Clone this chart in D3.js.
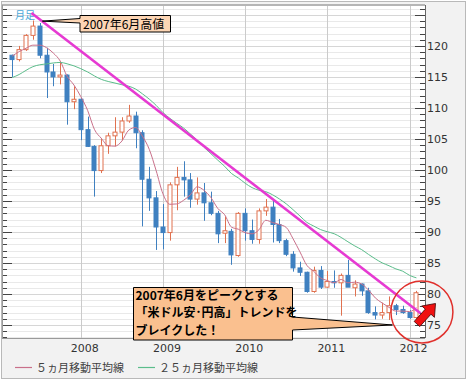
<!DOCTYPE html>
<html>
<head>
<meta charset="utf-8">
<script src="https://cdn.jsdelivr.net/npm/d3@7"></script>
<style>
    body { margin: 0; background: #fff; }
    svg { display: block; }
</style>
</head>
<body>
<div id="chart"></div>
<script>

// 月足 USD/JPY  2007-03 .. 2012-02
var months = ["2007-03","2007-04","2007-05","2007-06","2007-07","2007-08","2007-09","2007-10","2007-11","2007-12",
    "2008-01","2008-02","2008-03","2008-04","2008-05","2008-06","2008-07","2008-08","2008-09","2008-10","2008-11","2008-12",
    "2009-01","2009-02","2009-03","2009-04","2009-05","2009-06","2009-07","2009-08","2009-09","2009-10","2009-11","2009-12",
    "2010-01","2010-02","2010-03","2010-04","2010-05","2010-06","2010-07","2010-08","2010-09","2010-10","2010-11","2010-12",
    "2011-01","2011-02","2011-03","2011-04","2011-05","2011-06","2011-07","2011-08","2011-09","2011-10","2011-11","2011-12",
    "2012-01","2012-02"];

var opens  = [118.5,117.8,119.4,121.7,123.2,118.5,115.8,115.0,115.3,111.0,
    111.4,106.5,103.8, 99.9,103.9,105.5,106.1,107.9,108.7,106.0, 98.5, 95.5,
     90.8, 89.9, 97.6, 98.8, 98.4, 95.3, 96.3, 94.7, 93.0, 89.8, 90.1, 86.2,
     93.0, 90.2, 88.8, 93.4, 94.0, 91.2, 88.6, 86.4, 84.2, 83.5, 80.4, 83.8,
     81.1, 82.0, 81.8, 83.0, 81.0, 81.6, 80.5, 77.0, 76.6, 77.0, 78.1, 77.5,
     77.0, 76.2];
var highs  = [118.6,120.0,121.9,124.1,123.7,119.7,117.1,117.4,115.4,113.5,
    111.6,108.6,104.0,105.1,106.0,108.5,108.5,110.5,109.4,106.4,100.5, 96.6,
     94.5, 98.0,100.5,101.4, 99.5, 98.8, 97.9, 96.5, 93.4, 92.5, 90.5, 93.2,
     93.8, 92.0, 93.8, 95.3, 95.2, 92.1, 88.9, 86.9, 85.2, 83.6, 84.4, 84.5,
     83.7, 83.8, 83.3, 85.5, 82.2, 81.7, 81.0, 78.0, 78.6, 79.6, 78.4, 78.1,
     77.4, 80.5];
var lows   = [115.0,117.5,119.2,121.0,118.0,111.6,113.5,113.8,107.3,109.8,
    104.8,103.7, 95.7, 99.5,102.6,103.8,104.8,107.6,103.5, 90.9, 93.4, 87.1,
     87.2, 88.6, 93.5, 95.7, 93.9, 94.4, 91.8, 92.7, 88.2, 88.2, 84.7, 86.0,
     88.6, 88.1, 88.1, 92.6, 88.3, 88.2, 86.1, 83.6, 82.9, 80.2, 80.2, 80.8,
     81.0, 81.0, 76.5, 81.2, 79.6, 79.7, 76.8, 75.9, 76.0, 75.8, 76.6, 76.8,
     76.0, 76.0];
var closes = [117.8,119.4,121.7,123.2,118.5,115.8,115.0,115.3,111.0,111.4,
    106.5,103.8, 99.9,103.9,105.5,106.1,107.9,108.7,106.0, 98.5, 95.5, 90.8,
     89.9, 97.6, 98.8, 98.4, 95.3, 96.3, 94.7, 93.0, 89.7, 90.2, 86.3, 93.0,
     90.2, 88.8, 93.4, 94.0, 91.2, 88.6, 86.4, 84.2, 83.5, 80.4, 83.8, 81.1,
     82.0, 81.8, 83.0, 81.1, 81.6, 80.5, 77.0, 76.6, 77.0, 78.1, 77.5, 77.0,
     76.2, 80.2];

// closes 2005-03 .. 2007-02 (warm-up for the moving averages)
var preCloses = [107.2,105.0,108.3,110.9,112.3,111.0,113.3,116.4,119.7,117.8,
    117.2,115.9,117.8,113.9,112.6,114.5,114.7,117.3,118.0,116.9,115.8,119.0,
    120.7,118.5];

var yearLabels = ["2008", "2009", "2010", "2011", "2012"];
var yTicks = [75, 80, 85, 90, 95, 100, 105, 110, 115, 120];
var legendNames = ["５ヵ月移動平均線", "２５ヵ月移動平均線"];
var maPeriods = [5, 25];

// trend line from the June 2007 top (month index, value)
var trendIdx = [2.8, 59.6];
var trendVal = [125.3, 76.9];

var width = 468, height = 385;

var svg = d3.select("#chart").append("svg")
    .attr("width", width)
    .attr("height", height)
    .style("font-family", "'DejaVu Sans', sans-serif");

var plot = {left: 2, right: 425, top: 5, bottom: 338};

var x = d3.scaleLinear().domain([-1.5, 60.25]).range([plot.left, plot.right]);
var y = d3.scaleLinear().domain([72.9, 126.6]).range([plot.bottom, plot.top]);

var data = months.map(function (m, i) {
    return {m: m, i: i, o: opens[i], h: highs[i], l: lows[i], c: closes[i]};
});

// panel + plot background
svg.append("rect").attr("x", 1.5).attr("y", 1.5).attr("width", 464).attr("height", 377)
    .attr("fill", "#f2f2f2").attr("stroke", "#b9b9b9");
svg.append("rect").attr("x", plot.left).attr("y", plot.top)
    .attr("width", plot.right - plot.left).attr("height", plot.bottom - plot.top)
    .attr("fill", "#fff");

// horizontal grid, every 1 yen
var gridVals = d3.range(73, 127);
svg.append("g").selectAll("line").data(gridVals).enter().append("line")
    .attr("x1", plot.left).attr("x2", plot.right)
    .attr("y1", function (d) { return Math.round(y(d)) + 0.5; })
    .attr("y2", function (d) { return Math.round(y(d)) + 0.5; })
    .attr("stroke", function (d) { return d % 5 === 0 ? "#d6d6d6" : "#e9e9e9"; });

// vertical grid at January
var janIdx = yearLabels.map(function (yr) { return months.indexOf(yr + "-01"); });
svg.append("g").selectAll("line").data(janIdx).enter().append("line")
    .attr("x1", function (d) { return Math.round(x(d)) + 0.5; })
    .attr("x2", function (d) { return Math.round(x(d)) + 0.5; })
    .attr("y1", plot.top).attr("y2", plot.bottom)
    .attr("stroke", "#cbcbcb");

// ticks on both sides
var tickG = svg.append("g");
gridVals.forEach(function (v) {
    var yy = Math.round(y(v)) + 0.5, len = v % 5 === 0 ? 10 : 5;
    tickG.append("line").attr("x1", plot.left).attr("x2", plot.left + len)
        .attr("y1", yy).attr("y2", yy).attr("stroke", "#444");
    tickG.append("line").attr("x1", plot.right - len).attr("x2", plot.right)
        .attr("y1", yy).attr("y2", yy).attr("stroke", "#444");
});

// frame lines
svg.append("line").attr("x1", plot.left).attr("x2", plot.right).attr("y1", plot.top).attr("y2", plot.top)
    .attr("stroke", "#b5b5b5").attr("stroke-width", 2);
svg.append("line").attr("x1", plot.left).attr("x2", plot.right).attr("y1", plot.bottom + 0.5).attr("y2", plot.bottom + 0.5)
    .attr("stroke", "#9a9a9a");
svg.append("line").attr("x1", plot.right + 0.5).attr("x2", plot.right + 0.5).attr("y1", plot.top).attr("y2", plot.bottom)
    .attr("stroke", "#666");
svg.append("line").attr("x1", plot.left + 0.5).attr("x2", plot.left + 0.5).attr("y1", plot.top).attr("y2", plot.bottom)
    .attr("stroke", "#9a9a9a");

// y labels (right)
svg.append("g").selectAll("text").data(yTicks).enter().append("text")
    .attr("x", plot.right + 2)
    .attr("y", function (d) { return y(d) + 4; })
    .attr("font-size", 11).attr("fill", "#333")
    .text(function (d) { return d; });

// year labels
svg.append("g").selectAll("text").data(yearLabels).enter().append("text")
    .attr("x", function (d, k) { return x(janIdx[k]) + 4; })
    .attr("y", 352)
    .attr("text-anchor", "middle")
    .attr("font-size", 11).attr("fill", "#333")
    .text(function (d) { return d; });

svg.append("text").attr("x", 15).attr("y", 19)
    .attr("font-size", 10).attr("fill", "#4aa8d8")
    .style("font-family", "'Noto Sans CJK JP', sans-serif")
    .text("月足");

// candles
var upCol = "#e0714f", downCol = "#3f80c0", bw = 5;
var candle = svg.append("g").selectAll("g").data(data).enter().append("g");

candle.append("line")
    .attr("x1", function (d) { return Math.round(x(d.i)) + 0.5; })
    .attr("x2", function (d) { return Math.round(x(d.i)) + 0.5; })
    .attr("y1", function (d) { return y(d.h); })
    .attr("y2", function (d) { return y(d.l); })
    .attr("stroke", function (d) { return d.c >= d.o ? upCol : downCol; });

candle.append("rect")
    .attr("x", function (d) { return Math.round(x(d.i)) - (bw - 1) / 2; })
    .attr("y", function (d) { return y(Math.max(d.o, d.c)); })
    .attr("width", bw - 1)
    .attr("height", function (d) { return Math.max(1, Math.abs(y(d.o) - y(d.c))); })
    .attr("fill", function (d) { return d.c >= d.o ? "#fff" : downCol; })
    .attr("stroke", function (d) { return d.c >= d.o ? upCol : downCol; });

// moving averages
var allCloses = preCloses.concat(closes);
var maColors = ["#c9708a", "#5bbd8b"];

function movingAvg(n) {
    return closes.map(function (c, i) {
        var end = preCloses.length + i + 1;
        return {i: i, v: d3.mean(allCloses.slice(end - n, end))};
    });
}

var line = d3.line()
    .x(function (d) { return x(d.i); })
    .y(function (d) { return y(d.v); })
    .curve(d3.curveMonotoneX);

maPeriods.forEach(function (n, k) {
    svg.append("path")
        .datum(movingAvg(n))
        .attr("fill", "none")
        .attr("stroke", maColors[k])
        .attr("stroke-width", 1)
        .attr("d", line);
});

// trend line
svg.append("line")
    .attr("x1", x(trendIdx[0])).attr("y1", y(trendVal[0]))
    .attr("x2", x(trendIdx[1])).attr("y2", y(trendVal[1]))
    .attr("stroke", "#e63ad2").attr("stroke-width", 2.6);

// callout 1
var tip1 = [x(4.4), y(124.0)];
svg.append("path")
    .attr("d", "M80,15.5H170.5V32H80V23L" + tip1[0] + "," + tip1[1] + "L80,18.5Z")
    .attr("fill", "#fcd5b4").attr("stroke", "#000").attr("stroke-width", 1);
svg.append("text").attr("x", 83).attr("y", 28.5)
    .attr("font-size", 12).attr("fill", "#000")
    .style("font-family", "'Noto Sans CJK JP', sans-serif")
    .text("2007年6月高値");

// callout 2
var tip2 = [x(55.5), y(75.0)];
svg.append("path")
    .attr("d", "M133.5,287.5H292.5V317L" + tip2[0] + "," + tip2[1] + "L292.5,330V340H133.5Z")
    .attr("fill", "#fac08f").attr("stroke", "#000").attr("stroke-width", 1);
var msg = ["2007年6月をピークとする", "「米ドル安･円高」トレンドを", "ブレイクした！"];
svg.append("g").selectAll("text").data(msg).enter().append("text")
    .attr("x", 135.5)
    .attr("y", function (d, k) { return 299.5 + k * 17.5; })
    .attr("font-size", 12).attr("font-weight", "bold").attr("fill", "#000")
    .style("font-family", "'Noto Sans CJK JP', sans-serif")
    .text(function (d) { return d; });

// red circle + arrow
svg.append("circle")
    .attr("cx", x(59.8)).attr("cy", y(77.1)).attr("r", 31)
    .attr("fill", "none").attr("stroke", "#e0302c").attr("stroke-width", 1.5);

var tail = [417, 324], head = [435.5, 303.5];
var len = Math.hypot(head[0] - tail[0], head[1] - tail[1]);
var ang = Math.atan2(head[1] - tail[1], head[0] - tail[0]) * 180 / Math.PI;
svg.append("path")
    .attr("d", "M0,-3.8L" + (len - 11) + ",-3.8L" + (len - 11) + ",-8.5L" + len + ",0L" +
        (len - 11) + ",8.5L" + (len - 11) + ",3.8L0,3.8Z")
    .attr("transform", "translate(" + tail + ") rotate(" + ang + ")")
    .attr("fill", "#f01010").attr("stroke", "#4a0a0a").attr("stroke-width", 0.8);

// legend
var lg = svg.append("g").style("font-family", "'Noto Sans CJK JP', sans-serif");
var legX = [15, 138];
legendNames.forEach(function (name, k) {
    lg.append("line").attr("x1", legX[k]).attr("x2", legX[k] + 17)
        .attr("y1", 367.5).attr("y2", 367.5)
        .attr("stroke", maColors[k]).attr("stroke-width", 1.2);
    lg.append("text").attr("x", legX[k] + 21).attr("y", 371.5)
        .attr("font-size", 11).attr("fill", "#404040")
        .text(name);
});

</script>
</body>
</html>
